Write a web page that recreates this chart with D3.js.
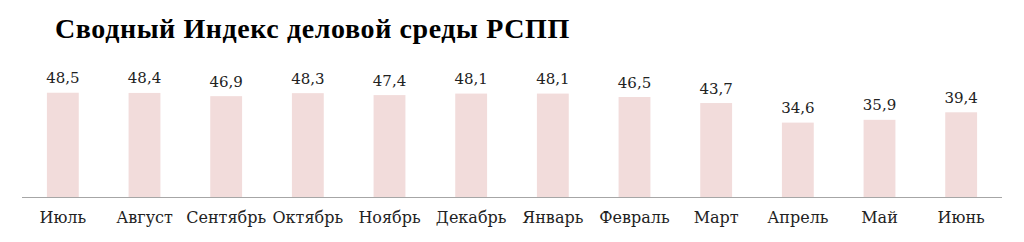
<!DOCTYPE html>
<html><head><meta charset="utf-8">
<script src="https://cdn.jsdelivr.net/npm/d3@7"></script>
<style>body{margin:0;background:#fff}</style>
</head><body><svg id="c" width="1024" height="242"></svg>
<script>
const months = ["Июль","Август","Сентябрь","Октябрь","Ноябрь","Декабрь","Январь","Февраль","Март","Апрель","Май","Июнь"];
const values = [48.5,48.4,46.9,48.3,47.4,48.1,48.1,46.5,43.7,34.6,35.9,39.4];
const title = "Сводный Индекс деловой среды РСПП";

const svg = d3.select("#c");
const x = d3.scaleBand().domain(months).range([22,1002]).paddingInner(0.61).paddingOuter(0.305);
const y = d3.scaleLinear().domain([0,60]).range([197,68]);

svg.append("text").attr("x",55).attr("y",38).attr("font-family","'Liberation Serif', 'Times New Roman', serif")
  .attr("font-weight","bold").attr("font-size",28).attr("letter-spacing",0.6).attr("fill","#000").text(title);

svg.selectAll("rect.bar").data(values).join("rect").attr("class","bar")
  .attr("x",(d,i)=>x(months[i])).attr("width",x.bandwidth())
  .attr("y",d=>y(d)).attr("height",d=>y(0)-y(d)).attr("fill","#f2dcdb");

svg.selectAll("text.val").data(values).join("text").attr("class","val")
  .attr("x",(d,i)=>x(months[i])+x.bandwidth()/2).attr("y",d=>y(d)-9.5)
  .attr("text-anchor","middle").attr("font-family","DejaVu Serif").attr("font-size",15)
  .attr("fill","#222").text(d=>d.toFixed(1).replace(".",","));

const ax = svg.append("g").attr("transform","translate(0,197)").call(d3.axisBottom(x).tickSize(0).tickPadding(15));
ax.select(".domain").attr("stroke","#a6a6a6").attr("stroke-width",1.2).attr("d","M22,0.5H1002");
ax.selectAll("text").attr("font-family","DejaVu Serif").attr("font-size",16).attr("fill","#222");
</script></body></html>
